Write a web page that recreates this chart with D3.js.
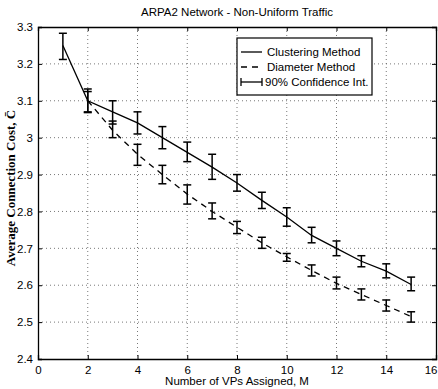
<!DOCTYPE html>
<html><head><meta charset="utf-8">
<script src="https://cdn.jsdelivr.net/npm/d3@7"></script>
<style>body{margin:0;background:#fff}svg{display:block}</style>
</head><body>
<script>
const xs = [1,2,3,4,5,6,7,8,9,10,11,12,13,14,15];
const clusterMean = [3.25,3.10,3.07,3.04,3.00,2.96,2.92,2.877,2.83,2.785,2.735,2.70,2.665,2.638,2.602];
const clusterLo   = [3.212,3.068,3.037,3.01,2.97,2.935,2.887,2.855,2.808,2.76,2.715,2.68,2.65,2.62,2.585];
const clusterHi   = [3.283,3.132,3.10,3.07,3.03,2.988,2.955,2.90,2.852,2.81,2.757,2.72,2.68,2.658,2.622];
const diamX    = [2,3,4,5,6,7,8,9,10,11,12,13,14,15];
const diamMean = [3.10,3.02,2.955,2.90,2.847,2.80,2.757,2.715,2.677,2.64,2.605,2.575,2.545,2.515];
const diamLo   = [3.07,3.00,2.925,2.875,2.82,2.78,2.74,2.70,2.665,2.625,2.59,2.56,2.53,2.50];
const diamHi   = [3.125,3.045,2.982,2.925,2.872,2.823,2.773,2.73,2.686,2.655,2.622,2.59,2.56,2.528];
const xTicks = [0,2,4,6,8,10,12,14,16];
const yTicks = [2.4,2.5,2.6,2.7,2.8,2.9,3.0,3.1,3.2,3.3];
const legendLabels = ["Clustering Method","Diameter Method","90% Confidence Int."];

const W=438,H=389;
const svg=d3.select("body").append("svg").attr("width",W).attr("height",H);
const L=38,R=436,T=27,B=359;
const x=d3.scaleLinear().domain([0,16]).range([L,R]);
const y=d3.scaleLinear().domain([2.4,3.3]).range([B,T]);
const font="Liberation Sans, Arial, sans-serif";

// grid
const g=svg.append("g");
g.selectAll(".vg").data(xTicks.slice(1,-1)).enter().append("line")
 .attr("x1",d=>x(d)).attr("x2",d=>x(d)).attr("y1",T).attr("y2",B)
 .attr("stroke","#555").attr("stroke-width",0.8).attr("stroke-dasharray","1,3");
g.selectAll(".hg").data(yTicks.slice(1,-1)).enter().append("line")
 .attr("y1",d=>y(d)).attr("y2",d=>y(d)).attr("x1",L).attr("x2",R)
 .attr("stroke","#555").attr("stroke-width",0.8).attr("stroke-dasharray","1,3");

// axes
const fmtY=d=> (d===3?"3":d3.format(".1f")(d));
const ax=svg.append("g").attr("transform",`translate(0,${B})`)
 .call(d3.axisBottom(x).tickValues(xTicks).tickSize(-4).tickPadding(7).tickFormat(d3.format("d")));
const ay=svg.append("g").attr("transform",`translate(${L},0)`)
 .call(d3.axisLeft(y).tickValues(yTicks).tickSize(-4).tickPadding(5).tickFormat(fmtY));
const at=svg.append("g").attr("transform",`translate(0,${T})`)
 .call(d3.axisTop(x).tickValues(xTicks).tickSize(-4).tickFormat(""));
const ar=svg.append("g").attr("transform",`translate(${R},0)`)
 .call(d3.axisRight(y).tickValues(yTicks).tickSize(-4).tickFormat(""));
[ax,ay,at,ar].forEach(a=>{
  a.select(".domain").attr("stroke","#000").attr("stroke-width",1.3);
  a.selectAll(".tick line").attr("stroke","#000").attr("stroke-width",1);
  a.selectAll("text").attr("font-family",font).attr("font-size",11.5).attr("fill","#000");
});
// keep the last x label inside the window
ax.selectAll(".tick text").filter(d=>d===16).attr("text-anchor","end").attr("dx",1);

// lines
const line=d3.line().x(d=>x(d[0])).y(d=>y(d[1]));
svg.append("path").datum(xs.map((v,i)=>[v,clusterMean[i]])).attr("d",line)
 .attr("fill","none").attr("stroke","#000").attr("stroke-width",1.3);
svg.append("path").datum(diamX.map((v,i)=>[v,diamMean[i]])).attr("d",line)
 .attr("fill","none").attr("stroke","#000").attr("stroke-width",1.3).attr("stroke-dasharray","6,5");

function errbars(X,lo,hi){
  const eg=svg.append("g").attr("stroke","#000").attr("stroke-width",1.5);
  X.forEach((v,i)=>{
    eg.append("line").attr("x1",x(v)).attr("x2",x(v)).attr("y1",y(lo[i])).attr("y2",y(hi[i]));
    eg.append("line").attr("x1",x(v)-4).attr("x2",x(v)+4).attr("y1",y(lo[i])).attr("y2",y(lo[i]));
    eg.append("line").attr("x1",x(v)-4).attr("x2",x(v)+4).attr("y1",y(hi[i])).attr("y2",y(hi[i]));
  });
}
errbars(xs,clusterLo,clusterHi);
errbars(diamX,diamLo,diamHi);

// title & labels
svg.append("text").attr("x",(L+R)/2).attr("y",16).attr("text-anchor","middle")
 .attr("font-family",font).attr("font-size",11.5).text("ARPA2 Network - Non-Uniform Traffic");
svg.append("text").attr("x",(L+R)/2).attr("y",385).attr("text-anchor","middle")
 .attr("font-family",font).attr("font-size",11.5).text("Number of VPs Assigned, M");
svg.append("text").attr("transform",`translate(15,188) rotate(-90)`).attr("text-anchor","middle")
 .attr("font-family","Liberation Serif, Times New Roman, serif").attr("font-weight","bold").attr("font-size",13)
 .text("Average Connection Cost, C\u0304");

// legend
const lg=svg.append("g");
lg.append("rect").attr("x",237).attr("y",38).attr("width",135).attr("height",57)
 .attr("fill","#fff").attr("stroke","#000").attr("stroke-width",1.2);
const ly=[52,67,82];
lg.append("line").attr("x1",241).attr("x2",262).attr("y1",ly[0]).attr("y2",ly[0]).attr("stroke","#000").attr("stroke-width",1.3);
lg.append("line").attr("x1",241).attr("x2",262).attr("y1",ly[1]).attr("y2",ly[1]).attr("stroke","#000").attr("stroke-width",1.3).attr("stroke-dasharray","6,5");
lg.append("line").attr("x1",241).attr("x2",262).attr("y1",ly[2]).attr("y2",ly[2]).attr("stroke","#000").attr("stroke-width",1.3);
lg.append("line").attr("x1",241).attr("x2",241).attr("y1",ly[2]-4).attr("y2",ly[2]+4).attr("stroke","#000").attr("stroke-width",1.3);
lg.append("line").attr("x1",262).attr("x2",262).attr("y1",ly[2]-4).attr("y2",ly[2]+4).attr("stroke","#000").attr("stroke-width",1.3);
lg.selectAll("text.l").data(legendLabels).enter().append("text")
 .attr("x",(d,i)=>i===2?265:267).attr("y",(d,i)=>ly[i]+4).attr("font-family",font).attr("font-size",11.5).text(d=>d);
</script>
</body></html>
